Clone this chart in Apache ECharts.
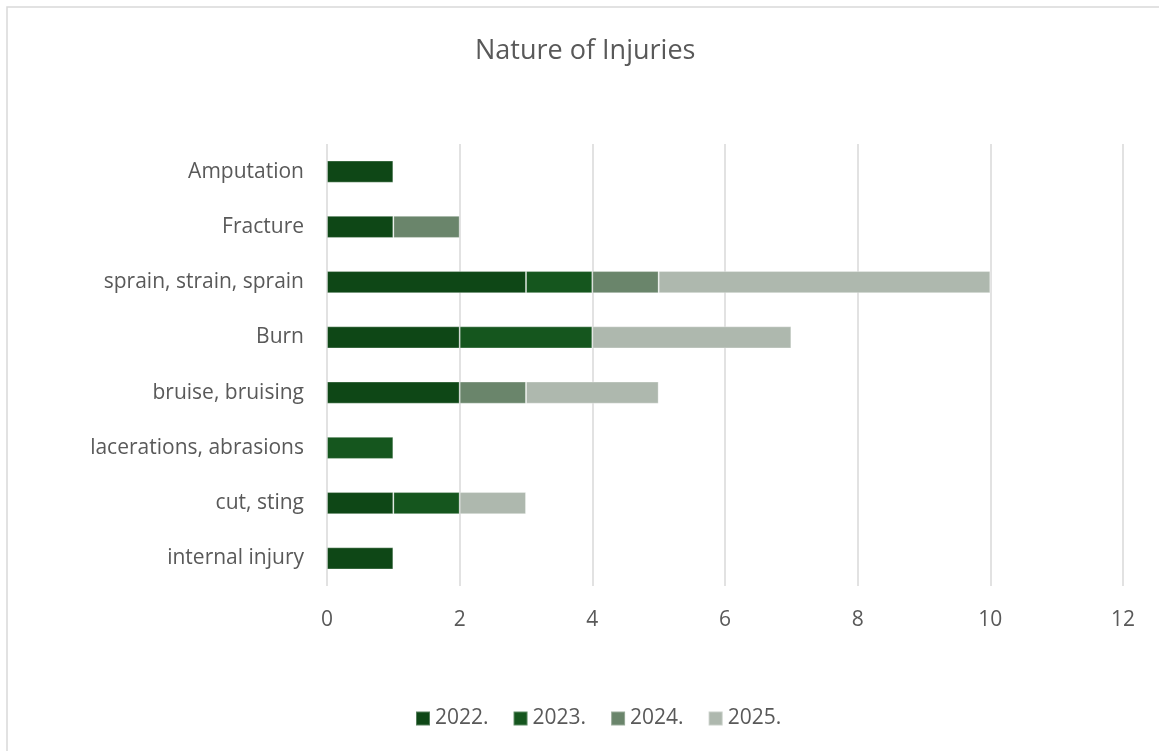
<!DOCTYPE html>
<html><head><meta charset="utf-8">
<script src="https://cdn.jsdelivr.net/npm/echarts@6/dist/echarts.min.js"></script>
<style>html,body{margin:0;padding:0;background:#fff}#c{width:1159px;height:751px}</style>
</head><body><div id="c"></div>
<script>
const categories = ['internal injury','cut, sting','lacerations, abrasions','bruise, bruising','Burn','sprain, strain, sprain','Fracture','Amputation'];
const seriesNames = ['2022.','2023.','2024.','2025.'];
const v2022 = [1, 1, 0, 2, 2, 3, 1, 1];
const v2023 = [0, 1, 1, 0, 2, 1, 0, 0];
const v2024 = [0, 0, 0, 1, 0, 1, 1, 0];
const v2025 = [0, 1, 0, 2, 3, 5, 0, 0];
const colors = ['#0E4716','#15561E','#6A856B','#AEB8AE'];
const font = '"Open Sans", sans-serif';
const chart = echarts.init(document.getElementById('c'));
const vals = [v2022, v2023, v2024, v2025];
chart.setOption({
  animation: false,
  title: {text: 'Nature of Injuries', left: 475, top: 38, padding: 0, textStyle: {fontFamily: font, fontSize: 27, fontWeight: 'normal', color: '#595959'}},
  graphic: [{type: 'rect', shape: {x: 7, y: 7, width: 1160, height: 760}, style: {fill: 'none', stroke: '#d9d9d9', lineWidth: 1.5}, silent: true}],
  grid: {left: 327, right: 36, top: 144, bottom: 165},
  legend: {bottom: 17, left: 410, itemWidth: 14, itemHeight: 14, itemGap: 24, icon: 'rect',
    textStyle: {fontFamily: font, fontSize: 21, color: '#595959'}, data: seriesNames},
  xAxis: {type: 'value', min: 0, max: 12, interval: 2,
    axisLine: {show: false}, axisTick: {show: false},
    splitLine: {lineStyle: {color: '#d9d9d9', width: 1.5}},
    axisLabel: {fontFamily: font, fontSize: 21, color: '#595959', margin: 24}},
  yAxis: {type: 'category', data: categories,
    axisLine: {show: false}, axisTick: {show: false},
    axisLabel: {fontFamily: font, fontSize: 21, color: '#595959', margin: 23}},
  series: seriesNames.map((n, i) => ({
    name: n, type: 'bar', stack: 'a', barWidth: '40%',
    data: vals[i].map(v => v === 0 ? null : v),
    itemStyle: {color: colors[i], borderColor: 'rgba(255,255,255,0.3)', borderWidth: 1}
  }))
});
</script></body></html>
